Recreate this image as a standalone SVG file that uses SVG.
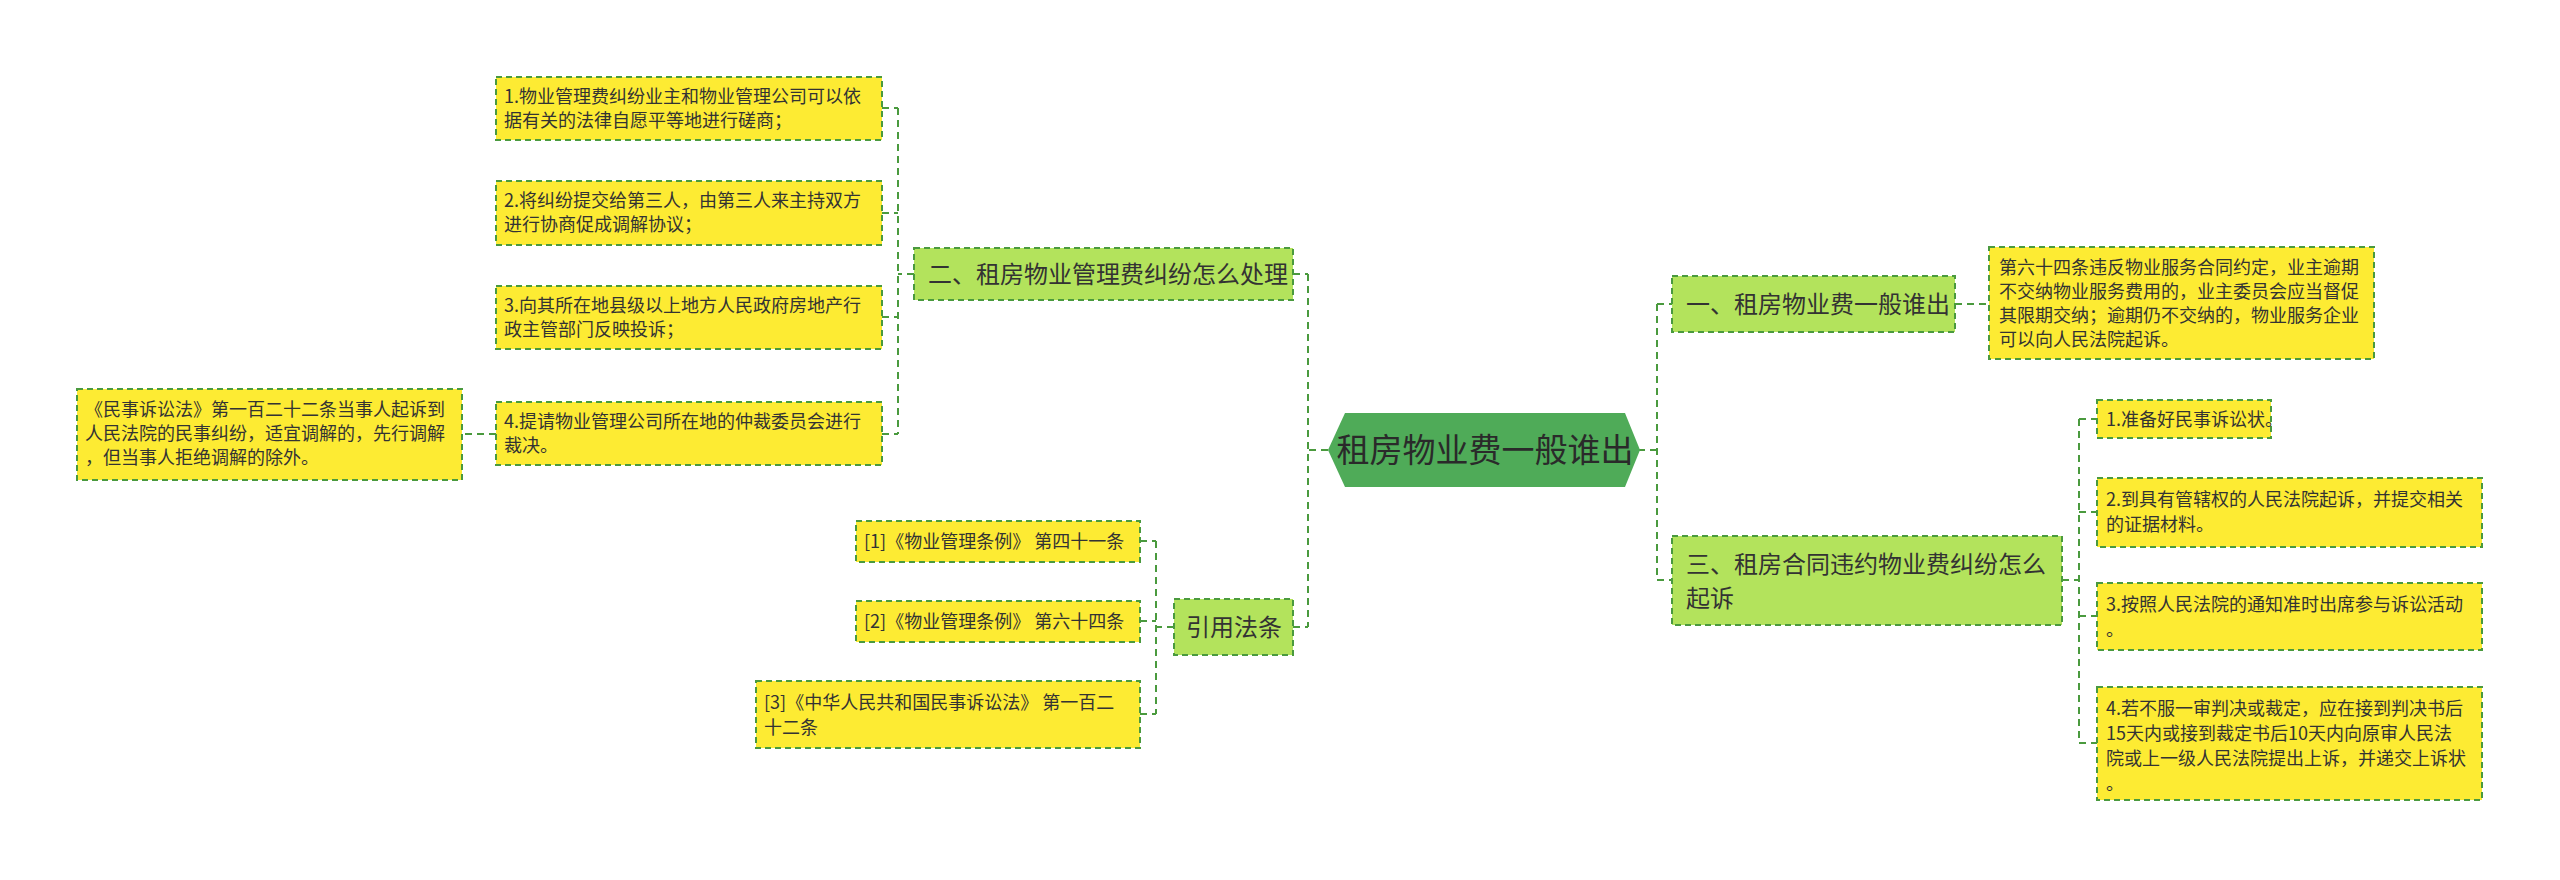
<svg xmlns="http://www.w3.org/2000/svg" width="2560" height="880" viewBox="0 0 2560 880">
<style>
text{font-family:"Noto Sans CJK SC","Liberation Sans",sans-serif;fill:#333}
.leaf{fill:#fdeb33;stroke:#4a9a3e;stroke-width:2;stroke-dasharray:6 4}
.br{fill:#b3e35c;stroke:#4a9a3e;stroke-width:2;stroke-dasharray:6 4}
.lt{font-size:18px}
.bt{font-size:24px}
#conn path{fill:none;stroke:#4a9a3e;stroke-width:2;stroke-dasharray:7 5}
</style>
<rect width="2560" height="880" fill="#fff"/>
<g id="conn">
<path d="M1328 450H1308M1308 274V627M1293 274H1308M1293 627H1308"/>
<path d="M1638 450H1657M1657 304V580M1657 304H1672M1657 580H1672"/>
<path d="M914 274H898M898 108V434M882 108H898M882 213H898M882 317H898M882 434H898"/>
<path d="M496 434H462"/>
<path d="M1174 627H1156M1156 541V714M1140 541H1156M1140 621H1156M1140 714H1156"/>
<path d="M1955 304H1989"/>
<path d="M2062 580H2079M2079 419V743M2079 419H2097M2079 512H2097M2079 616H2097M2079 743H2097"/>
</g>
<g id="center"><polygon points="1345,413 1625,413 1640,450 1625,487 1345,487 1328,450" fill="#4fab58"/><text x="1485" y="462" font-size="33" text-anchor="middle" style="fill:#2a2a2a">租房物业费一般谁出</text></g>
<g id="n2"><rect class="br" x="914" y="248" width="379" height="52"/><text class="bt" x="928" y="283">二、租房物业管理费纠纷怎么处理</text></g>
<g id="l1"><rect class="leaf" x="496" y="77" width="386" height="63"/><text class="lt" x="504" y="103">1.物业管理费纠纷业主和物业管理公司可以依</text><text class="lt" x="504" y="127">据有关的法律自愿平等地进行磋商；</text></g>
<g id="l2"><rect class="leaf" x="496" y="181" width="386" height="64"/><text class="lt" x="504" y="207">2.将纠纷提交给第三人，由第三人来主持双方</text><text class="lt" x="504" y="231">进行协商促成调解协议；</text></g>
<g id="l3"><rect class="leaf" x="496" y="286" width="386" height="63"/><text class="lt" x="504" y="312">3.向其所在地县级以上地方人民政府房地产行</text><text class="lt" x="504" y="336">政主管部门反映投诉；</text></g>
<g id="l4"><rect class="leaf" x="496" y="402" width="386" height="63"/><text class="lt" x="504" y="428">4.提请物业管理公司所在地的仲裁委员会进行</text><text class="lt" x="504" y="452">裁决。</text></g>
<g id="lf"><rect class="leaf" x="77" y="389" width="385" height="91"/><text class="lt" x="85" y="416">《民事诉讼法》第一百二十二条当事人起诉到</text><text class="lt" x="85" y="440">人民法院的民事纠纷，适宜调解的，先行调解</text><text class="lt" x="85" y="464">，但当事人拒绝调解的除外。</text></g>
<g id="ny"><rect class="br" x="1174" y="599" width="119" height="56"/><text class="bt" x="1234" y="636" text-anchor="middle">引用法条</text></g>
<g id="y1"><rect class="leaf" x="856" y="521" width="284" height="41"/><text class="lt" x="864" y="548">[1]《物业管理条例》 第四十一条</text></g>
<g id="y2"><rect class="leaf" x="856" y="601" width="284" height="41"/><text class="lt" x="864" y="628">[2]《物业管理条例》 第六十四条</text></g>
<g id="y3"><rect class="leaf" x="756" y="681" width="384" height="67"/><text class="lt" x="764" y="709">[3]《中华人民共和国民事诉讼法》 第一百二</text><text class="lt" x="764" y="734">十二条</text></g>
<g id="n1"><rect class="br" x="1672" y="276" width="283" height="56"/><text class="bt" x="1686" y="313">一、租房物业费一般谁出</text></g>
<g id="r0"><rect class="leaf" x="1989" y="247" width="385" height="112"/><text class="lt" x="1999" y="274">第六十四条违反物业服务合同约定，业主逾期</text><text class="lt" x="1999" y="298">不交纳物业服务费用的，业主委员会应当督促</text><text class="lt" x="1999" y="322">其限期交纳；逾期仍不交纳的，物业服务企业</text><text class="lt" x="1999" y="346">可以向人民法院起诉。</text></g>
<g id="n3"><rect class="br" x="1672" y="536" width="390" height="89"/><text class="bt" x="1686" y="573">三、租房合同违约物业费纠纷怎么</text><text class="bt" x="1686" y="607">起诉</text></g>
<g id="r1"><rect class="leaf" x="2097" y="400" width="174" height="38"/><text class="lt" x="2106" y="426">1.准备好民事诉讼状。</text></g>
<g id="r2"><rect class="leaf" x="2097" y="478" width="385" height="69"/><text class="lt" x="2106" y="506">2.到具有管辖权的人民法院起诉，并提交相关</text><text class="lt" x="2106" y="531">的证据材料。</text></g>
<g id="r3"><rect class="leaf" x="2097" y="583" width="385" height="67"/><text class="lt" x="2106" y="611">3.按照人民法院的通知准时出席参与诉讼活动</text><text class="lt" x="2106" y="636">。</text></g>
<g id="r4"><rect class="leaf" x="2097" y="687" width="385" height="113"/><text class="lt" x="2106" y="715">4.若不服一审判决或裁定，应在接到判决书后</text><text class="lt" x="2106" y="740">15天内或接到裁定书后10天内向原审人民法</text><text class="lt" x="2106" y="765">院或上一级人民法院提出上诉，并递交上诉状</text><text class="lt" x="2106" y="790">。</text></g>
</svg>
